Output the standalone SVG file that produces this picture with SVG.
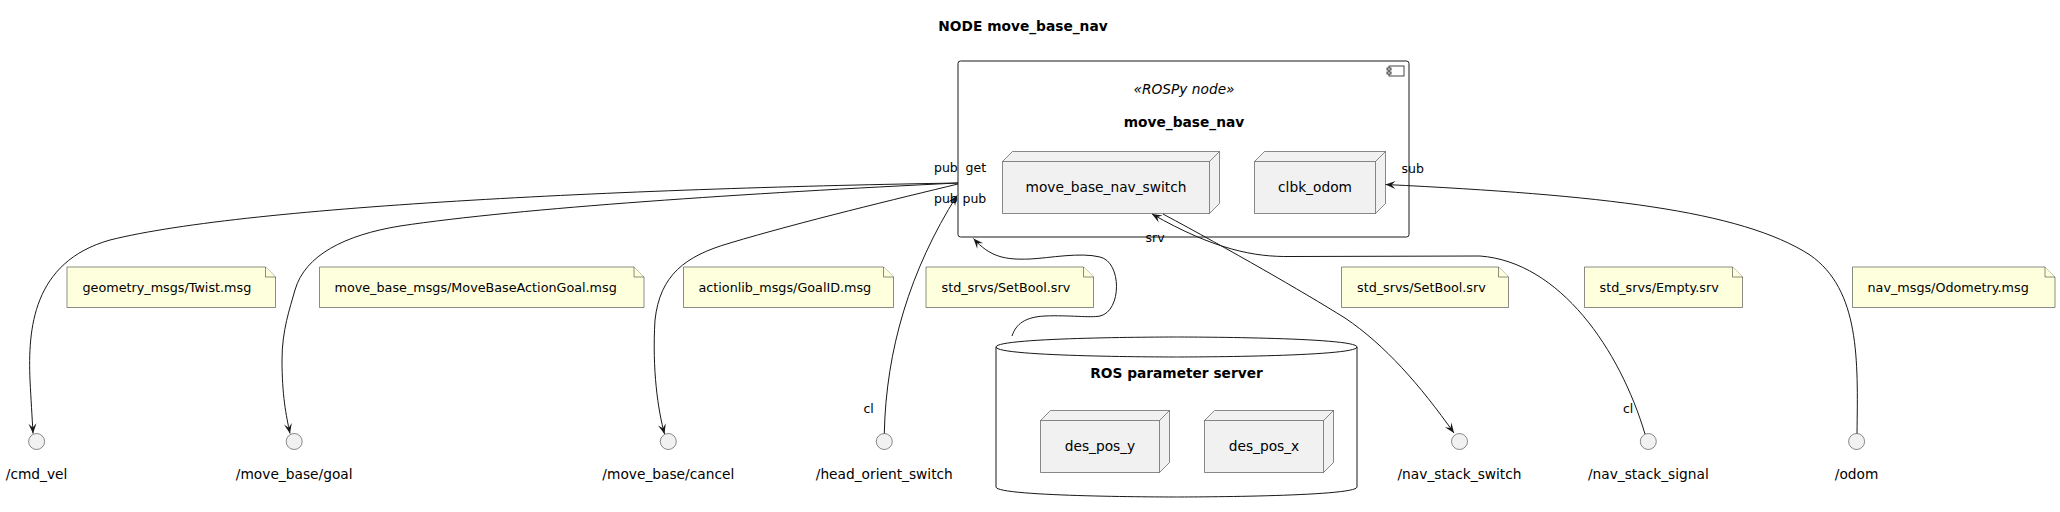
<svg xmlns="http://www.w3.org/2000/svg" width="2060" height="512" viewBox="0 0 2060 512">
<defs>
<style>
text{font-family:"DejaVu Sans","Liberation Sans",sans-serif;fill:#000}
.ttl{font-size:13.75px;font-weight:bold}
.lbl{font-size:13.75px}
.st{font-size:13.75px;font-style:italic}
.nt{font-size:12.75px}
.al{font-size:12.5px}
.node{fill:#F1F1F1;stroke:#181818;stroke-width:0.5}
.nodel{fill:none;stroke:#181818;stroke-width:0.5}
.edge{fill:none;stroke:#181818;stroke-width:1;marker-end:url(#arr)}
.edgen{fill:none;stroke:#181818;stroke-width:1}
.note{fill:#FEFFDD;stroke:#181818;stroke-width:0.5}
.iface{fill:#F1F1F1;stroke:#181818;stroke-width:0.5}
</style>
<marker id="arr" viewBox="-11 -5 12 10" refX="0" refY="0" markerWidth="12" markerHeight="10" markerUnits="userSpaceOnUse" orient="auto">
<path d="M0,0 L-10,-4 L-6,0 L-10,4 Z" fill="#181818"/>
</marker>
</defs>
<rect width="2060" height="512" fill="#FFFFFF"/>
<text class="ttl" x="1023" y="31" text-anchor="middle">NODE move_base_nav</text>

<g id="move_base_nav">
<rect x="958" y="61" width="451" height="176" rx="2.5" fill="#FFFFFF" stroke="#181818" stroke-width="1"/>
<rect x="1389" y="66" width="15" height="10" fill="#FFFFFF" stroke="#181818" stroke-width="0.8"/>
<rect x="1387" y="68" width="4" height="2" fill="#FFFFFF" stroke="#181818" stroke-width="0.8"/>
<rect x="1387" y="72" width="4" height="2" fill="#FFFFFF" stroke="#181818" stroke-width="0.8"/>
<text class="st" x="1184" y="94" text-anchor="middle">«ROSPy node»</text>
<text class="ttl" x="1184" y="127" text-anchor="middle">move_base_nav</text>
</g>

<g id="move_base_nav_switch">
<path class="node" d="M1002.5,161.5 L1012.5,151.5 L1219.5,151.5 L1219.5,203.5 L1209.5,213.5 L1002.5,213.5 Z"/>
<path class="nodel" d="M1002.5,161.5 L1209.5,161.5 L1219.5,151.5 M1209.5,161.5 L1209.5,213.5"/>
<text class="lbl" x="1106" y="192" text-anchor="middle">move_base_nav_switch</text>
</g>

<g id="clbk_odom">
<path class="node" d="M1254.5,161.5 L1264.5,151.5 L1385.5,151.5 L1385.5,203.5 L1375.5,213.5 L1254.5,213.5 Z"/>
<path class="nodel" d="M1254.5,161.5 L1375.5,161.5 L1385.5,151.5 M1375.5,161.5 L1375.5,213.5"/>
<text class="lbl" x="1315" y="192" text-anchor="middle">clbk_odom</text>
</g>

<g id="ros_parameter_server">
<path d="M996,347 C996,337 1176.5,337 1176.5,337 C1176.5,337 1357,337 1357,347 L1357,487 C1357,497 1176.5,497 1176.5,497 C1176.5,497 996,497 996,487 Z" fill="#FFFFFF" stroke="#181818" stroke-width="1"/>
<path d="M996,347 C996,357 1176.5,357 1176.5,357 C1176.5,357 1357,357 1357,347" fill="none" stroke="#181818" stroke-width="1"/>
<text class="ttl" x="1176.5" y="378" text-anchor="middle">ROS parameter server</text>
</g>

<g id="des_pos_y">
<path class="node" d="M1040.5,420.5 L1050.5,410.5 L1169.5,410.5 L1169.5,462.5 L1159.5,472.5 L1040.5,472.5 Z"/>
<path class="nodel" d="M1040.5,420.5 L1159.5,420.5 L1169.5,410.5 M1159.5,420.5 L1159.5,472.5"/>
<text class="lbl" x="1100" y="450.5" text-anchor="middle">des_pos_y</text>
</g>

<g id="des_pos_x">
<path class="node" d="M1204.5,420.5 L1214.5,410.5 L1333.5,410.5 L1333.5,462.5 L1323.5,472.5 L1204.5,472.5 Z"/>
<path class="nodel" d="M1204.5,420.5 L1323.5,420.5 L1333.5,410.5 M1323.5,420.5 L1323.5,472.5"/>
<text class="lbl" x="1264" y="450.5" text-anchor="middle">des_pos_x</text>
</g>

<g id="note_twist">
<path class="note" d="M67,267 L265.5,267 L275.5,277 L275.5,307.5 L67,307.5 Z"/>
<path class="note" d="M265.5,267 L265.5,277 L275.5,277"/>
<text class="nt" x="82.5" y="291.5">geometry_msgs/Twist.msg</text>
</g>
<g id="note_goal">
<path class="note" d="M319.5,267 L634,267 L644,277 L644,307.5 L319.5,307.5 Z"/>
<path class="note" d="M634,267 L634,277 L644,277"/>
<text class="nt" x="334.5" y="291.5">move_base_msgs/MoveBaseActionGoal.msg</text>
</g>
<g id="note_goalid">
<path class="note" d="M683.5,267 L883.5,267 L893.5,277 L893.5,307.5 L683.5,307.5 Z"/>
<path class="note" d="M883.5,267 L883.5,277 L893.5,277"/>
<text class="nt" x="698.5" y="291.5">actionlib_msgs/GoalID.msg</text>
</g>
<g id="note_setbool1">
<path class="note" d="M926,267 L1083.5,267 L1093.5,277 L1093.5,307.5 L926,307.5 Z"/>
<path class="note" d="M1083.5,267 L1083.5,277 L1093.5,277"/>
<text class="nt" x="941.5" y="291.5">std_srvs/SetBool.srv</text>
</g>
<g id="note_setbool2">
<path class="note" d="M1341.5,267 L1498.5,267 L1508.5,277 L1508.5,307.5 L1341.5,307.5 Z"/>
<path class="note" d="M1498.5,267 L1498.5,277 L1508.5,277"/>
<text class="nt" x="1357" y="291.5">std_srvs/SetBool.srv</text>
</g>
<g id="note_empty">
<path class="note" d="M1584.5,267 L1732.5,267 L1742.5,277 L1742.5,307.5 L1584.5,307.5 Z"/>
<path class="note" d="M1732.5,267 L1732.5,277 L1742.5,277"/>
<text class="nt" x="1599.5" y="291.5">std_srvs/Empty.srv</text>
</g>
<g id="note_odometry">
<path class="note" d="M1852.5,267 L2045,267 L2055,277 L2055,307.5 L1852.5,307.5 Z"/>
<path class="note" d="M2045,267 L2045,277 L2055,277"/>
<text class="nt" x="1867.5" y="291.5">nav_msgs/Odometry.msg</text>
</g>

<g id="cmd_vel">
<circle class="iface" cx="36.6" cy="441.5" r="8"/>
<text class="lbl" x="36.6" y="479" text-anchor="middle">/cmd_vel</text>
</g>
<g id="move_base_goal">
<circle class="iface" cx="294.2" cy="441.5" r="8"/>
<text class="lbl" x="294.2" y="479" text-anchor="middle">/move_base/goal</text>
</g>
<g id="move_base_cancel">
<circle class="iface" cx="668.3" cy="441.5" r="8"/>
<text class="lbl" x="668.3" y="479" text-anchor="middle">/move_base/cancel</text>
</g>
<g id="head_orient_switch">
<circle class="iface" cx="884.3" cy="441.5" r="8"/>
<text class="lbl" x="884.3" y="479" text-anchor="middle">/head_orient_switch</text>
</g>
<g id="nav_stack_switch">
<circle class="iface" cx="1459.5" cy="441.5" r="8"/>
<text class="lbl" x="1459.5" y="479" text-anchor="middle">/nav_stack_switch</text>
</g>
<g id="nav_stack_signal">
<circle class="iface" cx="1648.3" cy="441.5" r="8"/>
<text class="lbl" x="1648.3" y="479" text-anchor="middle">/nav_stack_signal</text>
</g>
<g id="odom">
<circle class="iface" cx="1856.6" cy="441.5" r="8"/>
<text class="lbl" x="1856.6" y="479" text-anchor="middle">/odom</text>
</g>

<g id="connectors">
<path class="edge" d="M958,183 C650,188 250,205 110,240 C32,262 28,330 30,380 C31,400 32,415 33,433.5"/>
<path class="edge" d="M958,183 C750,193 520,208 400,226 C345,235 305,255 295,290 C290,308 282,330 282,360 C282,395 286,415 290,433.5"/>
<path class="edge" d="M958,184 C900,198 800,222 730,243 C685,256 660,275 655,320 C652,370 658,410 664.5,434"/>
<path class="edge" d="M884.3,433.5 C886,350 910,270 957,195.5"/>
<path class="edge" d="M1012,336 C1016,324 1025,317 1045,316 C1070,315 1090,318 1100,316 C1122,311 1122,262 1100,257 C1080,252 1050,258 1030,259 C1005,260 990,257 973.5,238.5"/>
<path class="edge" d="M1163,214 C1230,250 1300,290 1345,318 C1385,345 1420,385 1454,433"/>
<path class="edge" d="M1645,434 C1620,350 1560,262 1480,256 L1290,256.5 C1255,257 1215,250 1152,214"/>
<path class="edge" d="M1857,433.5 C1858,360 1860,290 1810,255 C1740,210 1600,195 1385.5,184.5"/>
<text class="al" x="934" y="172">pub</text>
<text class="al" x="965.5" y="172">get</text>
<text class="al" x="934" y="203">pub</text>
<text class="al" x="962.5" y="203">pub</text>
<text class="al" x="1401.5" y="173">sub</text>
<text class="al" x="1145.5" y="242">srv</text>
<text class="al" x="863.5" y="413">cl</text>
<text class="al" x="1623" y="413">cl</text>
</g>
</svg>
